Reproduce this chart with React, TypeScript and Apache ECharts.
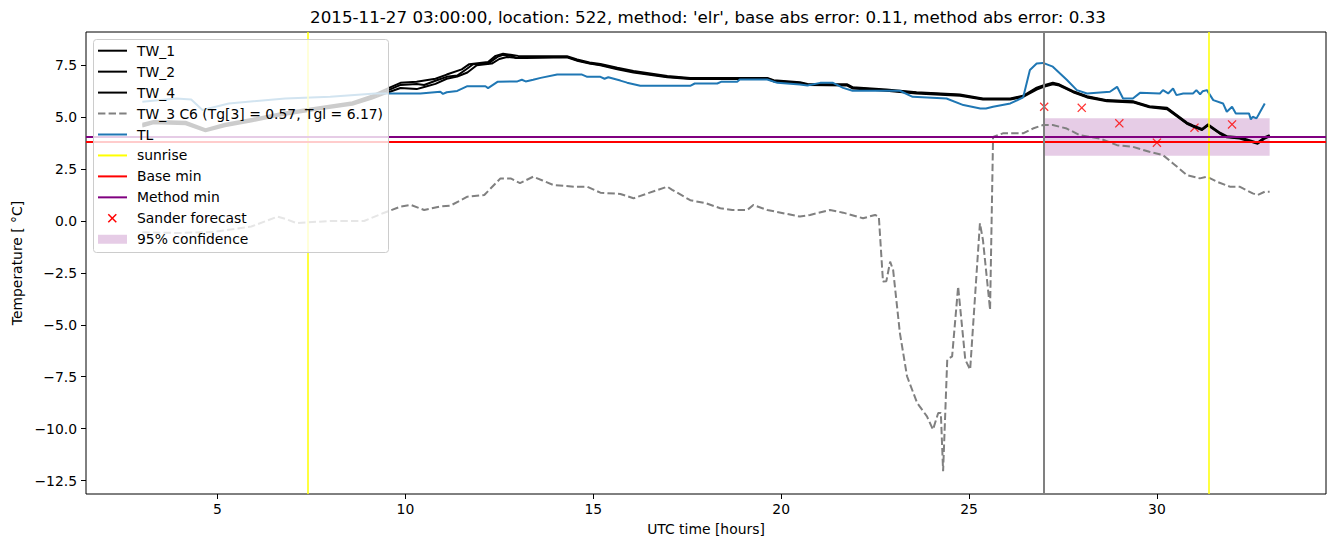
import React, { useEffect, useRef } from "react";
import * as echarts from "echarts";

const TITLE = "2015-11-27 03:00:00, location: 522, method: 'elr', base abs error: 0.11, method abs error: 0.33";
const X_TICKS = [5, 10, 15, 20, 25, 30];
const Y_TICKS = [-12.5, -10, -7.5, -5, -2.5, 0, 2.5, 5, 7.5];

const TW_1 = [
  [3.0, 4.62], [3.3, 4.77], [4.15, 4.72], [4.68, 4.37], [5.2, 4.62], [5.93, 4.86], [6.81, 5.18], [7.69, 5.42],
  [8.59, 5.66], [9.12, 5.98], [9.55, 6.3], [9.87, 6.55], [10.3, 6.6], [10.5, 6.55], [10.8, 6.75], [11.1, 6.94],
  [11.38, 7.0], [11.65, 7.34], [11.8, 7.55], [12.2, 7.58], [12.45, 7.9], [12.6, 8.0], [12.8, 7.96], [12.95, 7.85],
  [13.2, 7.88], [14.3, 7.9], [14.57, 7.74], [14.9, 7.6], [15.19, 7.52], [15.64, 7.34], [16.07, 7.18], [16.97, 6.95],
  [17.58, 6.86], [19.63, 6.86], [19.8, 6.75], [20.5, 6.65], [20.7, 6.57], [21.76, 6.55], [21.9, 6.41], [22.8, 6.3],
  [23.6, 6.17], [24.76, 6.06], [25.37, 5.87], [26.1, 5.87], [26.44, 6.0], [26.8, 6.38], [26.97, 6.49], [27.23, 6.62],
  [27.4, 6.55], [27.77, 6.22], [28.14, 5.98], [28.67, 5.79], [29.36, 5.74], [29.8, 5.5], [30.27, 5.42], [30.8, 4.7],
  [30.96, 4.57], [31.2, 4.4], [31.36, 4.62], [31.68, 4.22], [31.86, 4.05], [32.2, 4.0], [32.55, 3.81], [32.68, 3.74],
  [32.87, 4.0], [33.0, 4.1],
];
const TW_2 = [
  [3.0, 4.55], [3.3, 4.7], [4.15, 4.66], [4.68, 4.32], [5.2, 4.56], [5.93, 4.8], [6.81, 5.12], [7.69, 5.37],
  [8.59, 5.6], [9.12, 5.9], [9.55, 6.2], [9.87, 6.4], [10.3, 6.35], [10.5, 6.45], [10.8, 6.6], [11.1, 6.85],
  [11.38, 6.95], [11.65, 7.15], [11.9, 7.5], [12.3, 7.58], [12.5, 7.8], [12.7, 7.9], [13.0, 7.85],
  [13.2, 7.85], [14.3, 7.88], [14.6, 7.7], [14.9, 7.58], [15.19, 7.5], [15.64, 7.3], [16.07, 7.15], [16.97, 6.92],
  [17.58, 6.84], [19.63, 6.84], [19.8, 6.72], [20.5, 6.62], [20.7, 6.55], [21.76, 6.52], [21.9, 6.38], [22.8, 6.27],
  [23.6, 6.14], [24.76, 6.03], [25.37, 5.85], [26.1, 5.85], [26.44, 5.97], [26.8, 6.33], [26.97, 6.45], [27.23, 6.58],
  [27.4, 6.52], [27.77, 6.2], [28.14, 5.95], [28.67, 5.76], [29.36, 5.71], [29.8, 5.47], [30.27, 5.38], [30.8, 4.68],
  [30.96, 4.55], [31.2, 4.38], [31.36, 4.6], [31.68, 4.2], [31.86, 4.03], [32.2, 3.97], [32.55, 3.79], [32.68, 3.72],
  [32.87, 3.97], [33.0, 4.08],
];
const TW_4 = [
  [3.0, 4.68], [3.3, 4.82], [4.15, 4.78], [4.68, 4.42], [5.2, 4.68], [5.93, 4.92], [6.81, 5.24], [7.69, 5.48],
  [8.59, 5.72], [9.12, 6.05], [9.55, 6.4], [9.87, 6.65], [10.3, 6.7], [10.8, 6.85], [11.1, 7.05],
  [11.5, 7.3], [11.7, 7.55], [12.2, 7.65], [12.4, 7.95], [12.6, 8.05], [12.8, 8.0], [13.0, 7.95],
  [13.2, 7.93], [14.3, 7.93], [14.57, 7.78], [14.9, 7.63], [15.19, 7.56], [15.64, 7.38], [16.07, 7.22], [16.97, 6.98],
  [17.58, 6.89], [19.63, 6.89], [19.8, 6.78], [20.5, 6.68], [20.7, 6.6], [21.76, 6.58], [21.9, 6.44], [22.8, 6.33],
  [23.6, 6.2], [24.76, 6.09], [25.37, 5.9], [26.1, 5.9], [26.44, 6.03], [26.8, 6.42], [26.97, 6.53], [27.23, 6.66],
  [27.4, 6.58], [27.77, 6.25], [28.14, 6.01], [28.67, 5.82], [29.36, 5.77], [29.8, 5.53], [30.27, 5.45], [30.8, 4.74],
  [30.96, 4.6], [31.2, 4.43], [31.36, 4.65], [31.68, 4.25], [31.86, 4.08], [32.2, 4.03], [32.55, 3.84], [32.68, 3.77],
  [32.87, 4.03], [33.0, 4.13],
];
const TW_3 = [
  [3.0, -0.55], [4.0, -0.58], [4.9, -0.53], [5.9, -0.27], [6.6, 0.21], [6.8, 0.1], [7.1, -0.1], [8.0, 0.0],
  [8.9, 0.0], [9.4, 0.37], [9.87, 0.69], [10.15, 0.77], [10.5, 0.53], [10.9, 0.69], [11.2, 0.74], [11.65, 1.17],
  [12.1, 1.25], [12.53, 2.05], [12.8, 2.05], [13.05, 1.82], [13.4, 2.13], [13.65, 1.95], [13.94, 1.73], [14.5, 1.65],
  [14.84, 1.65], [15.19, 1.36], [15.72, 1.3], [16.07, 1.09], [16.4, 1.3], [16.97, 1.65], [17.1, 1.5], [17.58, 1.0],
  [18.0, 0.85], [18.38, 0.61], [18.7, 0.53], [19.1, 0.53], [19.26, 0.77], [19.63, 0.53], [20.5, 0.21], [20.77, 0.29],
  [21.3, 0.53], [21.65, 0.4], [22.18, 0.13], [22.5, 0.29], [22.6, 0.2], [22.71, -2.92], [22.8, -2.9], [22.9, -1.96],
  [22.98, -2.36], [23.16, -5.4], [23.35, -7.48], [23.62, -8.77], [23.88, -9.41], [24.04, -10.05], [24.18, -9.25],
  [24.25, -9.25], [24.31, -12.05], [24.42, -6.68], [24.55, -6.52], [24.71, -3.16], [24.9, -6.68], [25.03, -7.16],
  [25.29, -0.11], [25.37, -0.91], [25.56, -4.28], [25.64, 4.05], [25.9, 4.22], [26.44, 4.22], [26.7, 4.45],
  [26.97, 4.62], [27.23, 4.62], [27.6, 4.45], [27.95, 4.13], [28.48, 3.97], [28.94, 3.65], [29.36, 3.57], [29.8, 3.33],
  [30.16, 3.17], [30.43, 2.77], [30.8, 2.21], [31.14, 2.05], [31.33, 2.13], [31.6, 1.89], [31.94, 1.65], [32.2, 1.65],
  [32.55, 1.33], [32.68, 1.25], [32.87, 1.41], [33.0, 1.41],
];
const TL = [
  [3.0, 5.74], [3.9, 5.9], [4.3, 5.85], [4.6, 5.34], [5.3, 5.66], [6.8, 5.9], [8.0, 5.98], [9.2, 6.14], [9.87, 6.14],
  [10.4, 6.14], [10.93, 6.22], [11.0, 6.12], [11.1, 6.2], [11.38, 6.26], [11.65, 6.49], [12.13, 6.49], [12.2, 6.4],
  [12.45, 6.7], [12.98, 6.72], [13.1, 6.8], [13.2, 6.72], [13.4, 6.8], [13.6, 6.89], [14.04, 7.05], [14.7, 7.05],
  [14.84, 6.94], [15.19, 6.94], [15.3, 6.85], [15.4, 6.92], [15.72, 6.76], [15.9, 6.66], [16.25, 6.51], [17.58, 6.51],
  [17.7, 6.62], [18.3, 6.62], [18.4, 6.7], [18.83, 6.7], [18.9, 6.81], [19.63, 6.81], [19.9, 6.65], [20.5, 6.57],
  [20.7, 6.52], [21.04, 6.65], [21.38, 6.65], [21.65, 6.41], [21.9, 6.27], [23.16, 6.27], [23.5, 5.98], [24.4, 5.9],
  [24.85, 5.58], [25.3, 5.42], [25.45, 5.42], [25.64, 5.5], [26.1, 5.66], [26.44, 5.95], [26.62, 7.27], [26.8, 7.58],
  [26.97, 7.61], [27.23, 7.43], [27.6, 6.8], [27.87, 6.3], [28.14, 6.14], [28.75, 6.22], [28.94, 6.46], [29.1, 5.9],
  [29.36, 5.9], [29.55, 6.17], [30.08, 6.14], [30.16, 6.3], [30.3, 6.14], [30.43, 6.38], [30.52, 6.06], [30.7, 6.14],
  [30.96, 6.14], [31.05, 6.3], [31.15, 6.1], [31.22, 6.25], [31.33, 6.3], [31.5, 5.82], [31.76, 5.66], [31.86, 5.26],
  [32.0, 5.5], [32.1, 5.18], [32.45, 5.18], [32.5, 4.89], [32.55, 5.02], [32.65, 4.94], [32.7, 5.1], [32.87, 5.66],
];
const SANDER_X = [27, 28, 29, 30, 31, 32];
const SANDER_Y = [5.5, 5.45, 4.7, 3.77, 4.49, 4.65];
const SUNRISE = [7.39, 31.38];
const FORECAST_TIME = 27;
const BASE_MIN = 3.8;
const METHOD_MIN = 4.04;
const CONF_X = [27, 33];
const CONF_Y = [3.14, 4.95];

const FONT = '"DejaVu Sans", sans-serif';
const CROSS = "path://M0,1 L1,0 L5,4 L9,0 L10,1 L6,5 L10,9 L9,10 L5,6 L1,10 L0,9 L4,5 Z";

const LEGEND = [
  { name: "TW_1", kind: "line", color: "#000000" },
  { name: "TW_2", kind: "line", color: "#000000" },
  { name: "TW_4", kind: "line", color: "#000000" },
  { name: "TW_3 C6 (Tg[3] = 0.57, Tgl = 6.17)", kind: "dash", color: "#808080" },
  { name: "TL", kind: "line", color: "#1f77b4" },
  { name: "sunrise", kind: "line", color: "#ffff00" },
  { name: "Base min", kind: "line", color: "#ff0000" },
  { name: "Method min", kind: "line", color: "#800080" },
  { name: "Sander forecast", kind: "cross", color: "#ff0000" },
  { name: "95% confidence", kind: "patch", color: "rgba(128,0,128,0.2)" },
];

function legendGraphics() {
  const els: any[] = [
    {
      type: "rect",
      z: 100,
      shape: { x: 93.5, y: 39.5, width: 295, height: 213, r: 3 },
      style: { fill: "rgba(255,255,255,0.8)", stroke: "#cccccc", lineWidth: 1 },
    },
  ];
  LEGEND.forEach((it, i) => {
    const y = 50.7 + i * 20.95;
    if (it.kind === "line" || it.kind === "dash") {
      els.push({
        type: "line",
        z: 101,
        shape: { x1: 98, y1: y, x2: 127, y2: y },
        style: { stroke: it.color, lineWidth: 2, lineDash: it.kind === "dash" ? [7.4, 3.2] : null },
      });
    } else if (it.kind === "cross") {
      els.push({ type: "line", z: 101, shape: { x1: 108.3, y1: y - 4, x2: 116.3, y2: y + 4 }, style: { stroke: it.color, lineWidth: 1.5 } });
      els.push({ type: "line", z: 101, shape: { x1: 108.3, y1: y + 4, x2: 116.3, y2: y - 4 }, style: { stroke: it.color, lineWidth: 1.5 } });
    } else {
      els.push({ type: "rect", z: 101, shape: { x: 98, y: y - 4.5, width: 29, height: 9 }, style: { fill: it.color } });
    }
    els.push({
      type: "text",
      z: 101,
      x: 137,
      y: y,
      style: {
        text: it.name,
        font: `13.9px ${FONT}`,
        fill: "#000",
        textVerticalAlign: "middle",
        verticalAlign: "middle",
      },
    });
  });
  return els;
}

export default function App() {
  const ref = useRef<HTMLDivElement>(null);
  useEffect(() => {
    document.body.style.margin = "0";
    const chart = echarts.init(ref.current!, null, { renderer: "svg" });
    const lineSeries = (name: string, data: number[][], color: string, dash?: number[]) => ({
      type: "line",
      name,
      data,
      symbol: "none",
      showSymbol: false,
      silent: true,
      lineStyle: { color, width: 2, type: dash ? dash : "solid" },
      itemStyle: { color },
    });
    const markLineSeries = (name: string, color: string, width: number, data: any[]) => ({
      type: "line",
      name,
      data: [],
      silent: true,
      markLine: {
        silent: true,
        symbol: ["none", "none"],
        label: { show: false },
        emphasis: { disabled: true },
        lineStyle: { color, width, type: "solid" },
        data,
      },
    });
    const option: any = {
      animation: false,
      backgroundColor: "#ffffff",
      textStyle: { fontFamily: FONT },
      grid: { left: 86, top: 32, width: 1240, height: 462, show: true, borderColor: "#000", borderWidth: 1, backgroundColor: "transparent" },
      xAxis: {
        type: "value",
        min: 1.5,
        max: 34.5,
        name: "UTC time [hours]",
        nameLocation: "middle",
        nameGap: 28,
        nameTextStyle: { color: "#000", fontSize: 13.9, fontFamily: FONT },
        splitLine: { show: false },
        axisLine: { show: false, onZero: false },
        axisTick: { show: true, length: 5, customValues: X_TICKS, lineStyle: { color: "#000", width: 1 } },
        axisLabel: { customValues: X_TICKS, color: "#000", fontSize: 13.9, fontFamily: FONT, margin: 8, formatter: (v: number) => String(v) },
      },
      yAxis: {
        type: "value",
        min: -13.15,
        max: 9.1,
        name: "Temperature [ °C]",
        nameLocation: "middle",
        nameGap: 62,
        nameTextStyle: { color: "#000", fontSize: 13.9, fontFamily: FONT },
        splitLine: { show: false },
        axisLine: { show: false, onZero: false },
        axisTick: { show: true, length: 5, customValues: Y_TICKS, lineStyle: { color: "#000", width: 1 } },
        axisLabel: {
          customValues: Y_TICKS,
          color: "#000",
          fontSize: 13.9,
          fontFamily: FONT,
          margin: 9,
          formatter: (v: number) => (v < 0 ? "\u2212" : "") + Math.abs(v).toFixed(1),
        },
      },
      series: [
        {
          type: "line",
          name: "95% confidence",
          data: [],
          silent: true,
          markArea: {
            silent: true,
            itemStyle: { color: "rgba(128,0,128,0.2)" },
            label: { show: false },
            data: [[{ xAxis: CONF_X[0], yAxis: CONF_Y[0] }, { xAxis: CONF_X[1], yAxis: CONF_Y[1] }]],
          },
        },
        lineSeries("TW_1", TW_1, "#000000"),
        lineSeries("TW_2", TW_2, "#000000"),
        lineSeries("TW_4", TW_4, "#000000"),
        lineSeries("TW_3 C6 (Tg[3] = 0.57, Tgl = 6.17)", TW_3, "#808080", [7.4, 3.2]),
        lineSeries("TL", TL, "#1f77b4"),
        markLineSeries("sunrise", "#ffff00", 1.5, SUNRISE.map((x) => ({ xAxis: x }))),
        markLineSeries("Base min", "#ff0000", 2, [{ yAxis: BASE_MIN }]),
        markLineSeries("Method min", "#800080", 2, [{ yAxis: METHOD_MIN }]),
        markLineSeries("forecast time", "#808080", 2, [{ xAxis: FORECAST_TIME }]),
        {
          type: "scatter",
          name: "Sander forecast",
          data: SANDER_X.map((x, i) => [x, SANDER_Y[i]]),
          symbol: CROSS,
          symbolSize: 9,
          silent: true,
          itemStyle: { color: "#ff0000" },
        },
      ],
      graphic: [
        {
          type: "text",
          x: 708,
          y: 17,
          z: 100,
          style: {
            text: TITLE,
            font: `16.7px ${FONT}`,
            fill: "#000",
            textAlign: "center",
            align: "center",
            textVerticalAlign: "middle",
            verticalAlign: "middle",
          },
        },
        ...legendGraphics(),
      ],
    };
    chart.setOption(option);
    return () => chart.dispose();
  }, []);
  return <div ref={ref} style={{ width: 1335, height: 547 }} />;
}
